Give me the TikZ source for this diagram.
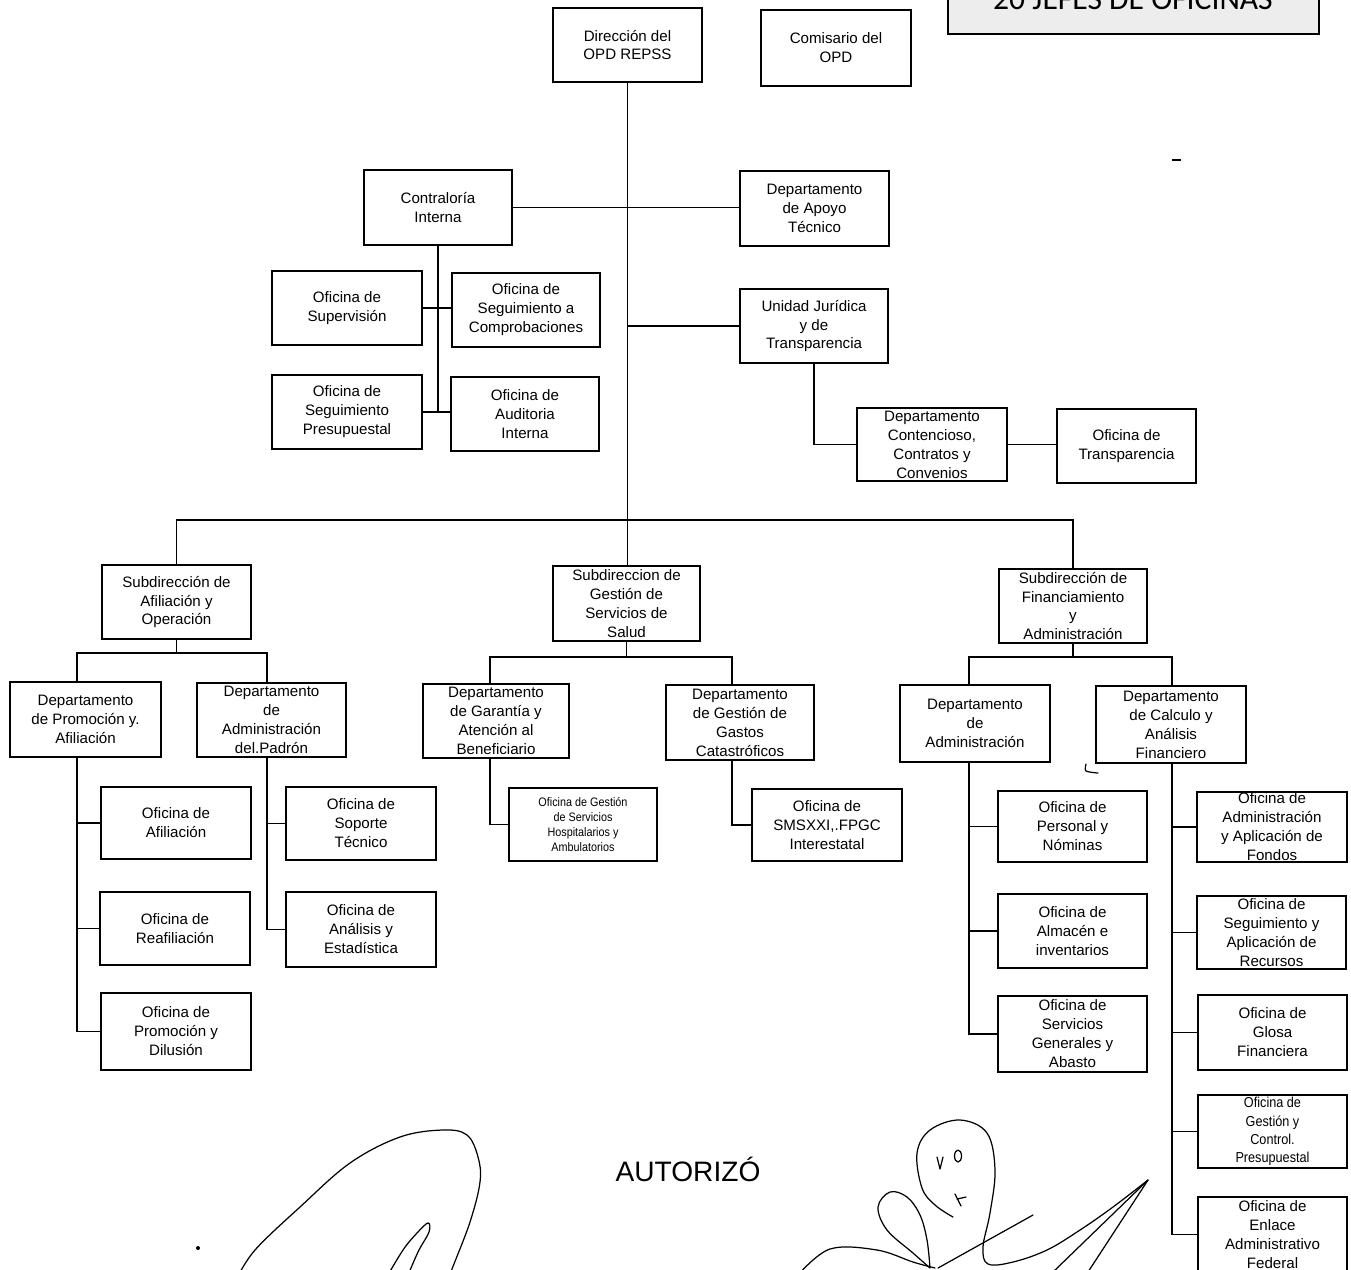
\documentclass[tikz,border=0pt]{standalone}
\usepackage{fontspec}
\setmainfont{Liberation Sans}
\newfontfamily\carl{Carlito}
\newfontfamily\narrowf{Liberation Sans}[FakeStretch=0.88]
\tikzset{
  boxst/.style={draw, line width=1.1pt, inner sep=0pt, align=center, fill=white,
    font=\fontsize{8.6}{10.8}\selectfont},
  smallbox/.style={font=\narrowf\fontsize{7}{8.6}\selectfont},
  narrowbox/.style={font=\narrowf\fontsize{8.2}{10.4}\selectfont},
  ln/.style={line width=1pt},
  sig/.style={line width=0.7pt, line cap=round, line join=round}
}
\newcommand\bx[7][]{\node[boxst,#1,minimum width={(#5-#3)*0.02cm},minimum height={(#6-#4)*0.02cm}] (#2) at ({(#3+#5)/2},{(#4+#6)/2}) {#7};}
\begin{document}
\begin{tikzpicture}[x=0.02cm,y=-0.02cm]
\useasboundingbox (0,0) rectangle (1351,1269);
\clip (0,0) rectangle (1351,1269);
\fill[white] (0,0) rectangle (1351,1269);

% top-right stamp box
\node[draw, line width=1.3pt, fill=gray!14, minimum width={(1319-948)*0.02cm}, minimum height={80*0.02cm}, inner sep=0pt] (jefesbox) at ({(948+1319)/2},-6) {};
\node[anchor=base, inner sep=0pt, font=\carl\fontsize{18}{20}\selectfont] (jefes) at (1133,9) {20 JEFES DE OFICINAS};

% boxes
\bx{dir}{553}{8}{702}{82}{Dirección del\\OPD REPSS}
\bx{com}{761}{10}{911}{86}{Comisario del\\OPD}
\bx{ci}{364}{170}{512}{245}{Contraloría\\Interna}
\bx{apt}{740}{171}{889}{246}{Departamento\\de Apoyo\\Técnico}
\bx{sup}{272}{271}{422}{345}{Oficina de\\Supervisión}
\bx{scc}{452}{273}{600}{347}{Oficina de\\Seguimiento a\\Comprobaciones}
\bx{spp}{272}{375}{422}{449}{Oficina de\\Seguimiento\\Presupuestal}
\bx{ai}{451}{377}{599}{451}{Oficina de\\Auditoria\\Interna}
\bx{ujt}{740}{289}{888}{363}{Unidad Jurídica\\y de\\Transparencia}
\bx{dcc}{857}{408}{1007}{481}{Departamento\\Contencioso,\\Contratos y\\Convenios}
\bx{ot}{1057}{409}{1196}{483}{Oficina de\\Transparencia}

\bx{afo}{102}{565}{251}{639}{Subdirección de\\Afiliación y\\Operación}
\bx{gss}{553}{566}{700}{641}{Subdireccion de\\Gestión de\\Servicios de\\Salud}
\bx{fya}{999}{569}{1147}{643}{Subdirección de\\Financiamiento\\y\\Administración}

\bx{ppa}{10}{682}{161}{757}{Departamento\\de Promoción y.\\Afiliación}
\bx{pad}{197}{683}{346}{757}{Departamento\\de\\Administración\\del.Padrón}
\bx{dga}{423}{684}{569}{758}{Departamento\\de Garantía y\\Atención al\\Beneficiario}
\bx{dgg}{666}{685}{814}{760}{Departamento\\de Gestión de\\Gastos\\Catastróficos}
\bx{dda}{900}{685}{1050}{762}{Departamento\\de\\Administración}
\bx{dcaf}{1096}{686}{1246}{763}{Departamento\\de Calculo y\\Análisis\\Financiero}

\bx{oaf}{101}{787}{251}{859}{Oficina de\\Afiliación}
\bx{oreaf}{100}{892}{250}{965}{Oficina de\\Reafiliación}
\bx{opd}{101}{993}{251}{1070}{Oficina de\\Promoción y\\Dilusión}
\bx{ost}{286}{787}{436}{860}{Oficina de\\Soporte\\Técnico}
\bx{oae}{286}{892}{436}{967}{Oficina de\\Análisis y\\Estadística}
\bx[smallbox]{ohosp}{509}{788}{657}{861}{Oficina de Gestión\\de Servicios\\Hospitalarios y\\Ambulatorios}
\bx{osm}{752}{789}{902}{861}{Oficina de\\SMSXXI,.FPGC\\Interestatal}
\bx{opn}{998}{791}{1147}{862}{Oficina de\\Personal y\\Nóminas}
\bx{oai}{998}{894}{1147}{968}{Oficina de\\Almacén e\\inventarios}
\bx{osga}{998}{996}{1147}{1072}{Oficina de\\Servicios\\Generales y\\Abasto}
\bx{oaaf}{1197}{792}{1347}{862}{Oficina de\\Administración\\y Aplicación de\\Fondos}
\bx{osar}{1197}{896}{1346}{969}{Oficina de\\Seguimiento y\\Aplicación de\\Recursos}
\bx{ogf}{1198}{995}{1347}{1070}{Oficina de\\Glosa\\Financiera}
\bx[narrowbox]{ogcp}{1198}{1095}{1347}{1168}{Oficina de\\Gestión y\\Control.\\Presupuestal}
\bx{oeaf}{1198}{1197}{1347}{1272}{Oficina de\\Enlace\\Administrativo\\Federal}

% connectors
\coordinate (busL) at (176,520);
\coordinate (busR) at (1073,520);
\draw[ln] (dir.south) -- (dir.south |- gss.north);
\draw[ln] (afo.north) -- (afo.north |- busL) -- (busR -| fya.north) -- (fya.north);

\draw[ln] (ci.east) -- (ci.east -| apt.west);
\draw[ln] (ci.south) -- (ci.south |- spp.east);
\draw[ln] (sup.east) -- (sup.east -| scc.west);
\draw[ln] (spp.east) -- (spp.east -| ai.west);
\draw[ln] (ujt.west -| dir.south) -- (ujt.west);
\draw[ln] (ujt.south) -- (ujt.south |- dcc.west) -- (dcc.west);
\draw[ln] (dcc.east) -- (dcc.east -| ot.west);

\coordinate (cPA) at (77,653);
\coordinate (cPD) at (267,653);
\draw[ln] (afo.south) -- (afo.south |- cPA);
\draw[ln] (ppa.north -| cPA) -- (cPA) -- (cPD) -- (pad.north -| cPD);
\draw[ln] (ppa.south -| cPA) -- (cPA |- opd.west) -- (opd.west);
\draw[ln] (cPA |- oaf.west) -- (oaf.west);
\draw[ln] (cPA |- oreaf.west) -- (oreaf.west);
\draw[ln] (pad.south -| cPD) -- (cPD |- oae.west) -- (oae.west);
\draw[ln] (cPD |- ost.west) -- (ost.west);

\coordinate (cGA) at (490,657);
\coordinate (cGG) at (732,657);
\draw[ln] (gss.south) -- (gss.south |- cGA);
\draw[ln] (dga.north -| cGA) -- (cGA) -- (cGG) -- (dgg.north -| cGG);
\draw[ln] (dga.south -| cGA) -- (cGA |- ohosp.west) -- (ohosp.west);
\draw[ln] (dgg.south -| cGG) -- (cGG |- osm.west) -- (osm.west);

\coordinate (cFA) at (969,657);
\coordinate (cFC) at (1172,657);
\draw[ln] (fya.south) -- (fya.south |- cFA);
\draw[ln] (dda.north -| cFA) -- (cFA) -- (cFC) -- (dcaf.north -| cFC);
\draw[ln] (dda.south -| cFA) -- (cFA |- osga.west) -- (osga.west);
\draw[ln] (cFA |- opn.west) -- (opn.west);
\draw[ln] (cFA |- oai.west) -- (oai.west);
\draw[ln] (dcaf.south -| cFC) -- (cFC |- oeaf.west) -- (oeaf.west);
\draw[ln] (cFC |- oaaf.west) -- (oaaf.west);
\draw[ln] (cFC |- osar.west) -- (osar.west);
\draw[ln] (cFC |- ogf.west) -- (ogf.west);
\draw[ln] (cFC |- ogcp.west) -- (ogcp.west);

% AUTORIZO
\node[inner sep=0pt, font=\fontsize{16}{18}\selectfont] (aut) at (688,1169) {AUTORIZÓ};

% signatures and marks
\draw[sig] plot[smooth, tension=0.6] coordinates {(236,1280) (255,1250) (300,1207) (350,1163) (400,1137) (443,1130) (467,1135) (478,1157) (480,1182) (470,1222) (452,1269) (448,1280)};
\draw[sig] plot[smooth, tension=0.6] coordinates {(385,1280) (403,1250) (417,1233) (428,1223) (429,1232) (418,1252) (406,1280)};
\fill (198,1248) circle[radius=2];
\draw[sig] plot[smooth, tension=0.6] coordinates {(953,1217) (935,1205) (922,1188) (917,1153) (930,1130) (960,1120) (987,1133) (995,1170) (990,1213) (983,1247) (988,1264) (1013,1262) (1047,1250) (1080,1230) (1113,1207) (1148,1180)};
\draw[sig] (1148,1180) -- (1053,1272);
\draw[sig] (1148,1180) -- (1088,1272);
\draw[sig] plot[smooth, tension=0.6] coordinates {(930,1268) (927,1240) (920,1215) (907,1197) (890,1192) (878,1207) (887,1230) (913,1253) (930,1268)};
\draw[sig] plot[smooth, tension=0.6] coordinates {(798,1275) (830,1249) (877,1250) (913,1262) (935,1268)};
\draw[sig] (938,1268) -- (1033,1215);
\draw[sig] (937,1157) -- (940,1169) -- (943,1157);
\draw[sig] (958,1156) ellipse[x radius=3.5, y radius=6];
\draw[sig] (955,1194) -- (961,1206) (957,1199) -- (966,1197);
\draw[sig] plot[smooth] coordinates {(1086,764) (1086,771) (1098,773)};
\draw[line width=0.6pt] (1172,160) -- (1181,160);
\end{tikzpicture}
\end{document}
